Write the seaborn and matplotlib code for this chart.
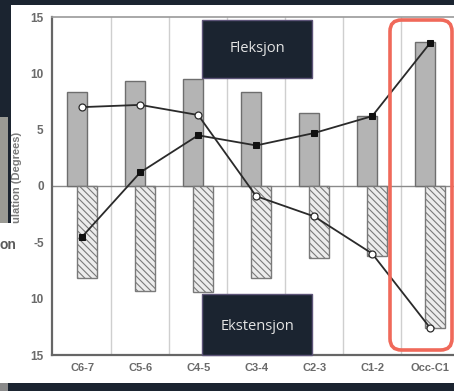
import numpy as np
import pandas as pd
import matplotlib
matplotlib.use("Agg")
import matplotlib.pyplot as plt
from matplotlib.patches import Rectangle, FancyBboxPatch
import seaborn as sns

# ---- data ----
categories = ["C6-7", "C5-6", "C4-5", "C3-4", "C2-3", "C1-2", "Occ-C1"]
flexion_bars = [8.3, 9.3, 9.5, 8.3, 6.5, 6.2, 12.8]
extension_bars = [-8.2, -9.3, -9.4, -8.2, -6.4, -6.2, -12.6]
open_circle_line = [7.0, 7.2, 6.3, -0.9, -2.7, -6.0, -12.6]
filled_square_line = [-4.5, 1.2, 4.5, 3.6, 4.7, 6.2, 12.7]
ytick_values = [15, 10, 5, 0, -5, -10, -15]
ytick_labels = ["15", "10", "5", "0", "-5", "10", "15"]
ylabel_text = "ulation (Degrees)"
box_top_text = "Fleksjon"
box_bottom_text = "Ekstensjon"

W, H = 454, 391
DARK = "#1b2430"

sns.set_style("white")
plt.rcParams["font.family"] = ["Liberation Sans", "DejaVu Sans"]
plt.rcParams["hatch.linewidth"] = 0.8

fig = plt.figure(figsize=(W / 100, H / 100), dpi=100)
fig.patch.set_facecolor("white")

def fx(x):
    return x / W

def fy(y):
    return 1 - y / H

# axes placed in pixel terms
ax_left, ax_top, ax_bottom = 52, 17, 355
xmin, xmax = -0.52, 6.5
px_per_unit = 58
ax_w = (xmax - xmin) * px_per_unit
ax = fig.add_axes([fx(ax_left), fy(ax_bottom), ax_w / W, (ax_bottom - ax_top) / H])
ax.set_facecolor("white")

pos = np.arange(len(categories))
off = 0.086
df_pos = pd.DataFrame({"x": pos - off, "y": flexion_bars})
df_neg = pd.DataFrame({"x": pos + off, "y": extension_bars})

ax.axhline(0, color="#8a8a8a", lw=1.0, zorder=0.5)
for b in pos[:-1] + 0.5:
    ax.axvline(b, color="#cfcfcf", lw=1.0, zorder=0.4)

sns.barplot(data=df_pos, x="x", y="y", native_scale=True, width=0.345,
            color="#b4b4b4", saturation=1, edgecolor="#6e6e6e", linewidth=1.0,
            errorbar=None, ax=ax, zorder=2)
sns.barplot(data=df_neg, x="x", y="y", native_scale=True, width=0.345,
            color="#ececec", saturation=1, edgecolor="#7a7a7a", linewidth=1.0,
            hatch="\\\\\\\\\\", errorbar=None, ax=ax, zorder=2)

sns.lineplot(x=pos, y=open_circle_line, ax=ax, color="#2a2a2a", lw=1.3,
             marker="o", markersize=5, markerfacecolor="white",
             markeredgecolor="#2a2a2a", markeredgewidth=0.9, zorder=4, sort=False)
sns.lineplot(x=pos, y=filled_square_line, ax=ax, color="#2a2a2a", lw=1.3,
             marker="s", markersize=4.5, markerfacecolor="#111111",
             markeredgecolor="#111111", zorder=5, sort=False)

ax.set_xlim(xmin, xmax)
ax.set_ylim(-15, 15)
ax.set_xticks(pos)
ax.set_xticklabels(categories, fontsize=8, fontweight="bold", color="#6a6a6a")
ax.set_yticks(ytick_values)
ax.set_yticklabels(ytick_labels, fontsize=8.5, fontweight="bold", color="#6a6a6a")
ax.tick_params(axis="y", direction="out", length=5, width=1.2, color="#666666", pad=1)
ax.tick_params(axis="x", length=0, pad=6)
ax.set_xlabel("")
ax.set_ylabel("")
for s in ["left", "bottom"]:
    ax.spines[s].set_color("#666666")
    ax.spines[s].set_linewidth(1.6)
ax.spines["top"].set_color("#9a9a9a")
ax.spines["top"].set_linewidth(1.2)
ax.spines["right"].set_visible(False)

# y label (partially visible)
fig.text(fx(17), fy(223), ylabel_text, rotation=90, ha="center", va="bottom",
         fontsize=8, fontweight="bold", color="#7a7a7a")

# ---- overlays from the slide ----
def rect(x0, y0, x1, y1, color, z=10, ec="none", lw=0):
    fig.patches.append(Rectangle((fx(x0), fy(y1)), fx(x1) - fx(x0), fy(y0) - fy(y1),
                                 transform=fig.transFigure, facecolor=color,
                                 edgecolor=ec, linewidth=lw, zorder=z))

rect(0, 0, W, 5, DARK)
rect(0, 0, 11, 223, DARK)
rect(0, 117, 8, 223, "#9a9a94")
rect(0, 383, W, H, DARK)
rect(0, 383, 8, H, "#8a8a8a")
fig.text(fx(0), fy(245), "on", fontsize=10, fontweight="bold", color="#5a5a5a",
         ha="left", va="center", zorder=11)

rect(202, 20, 312, 78, DARK, ec="#5d5478", lw=1)
fig.text(fx(257), fy(49), box_top_text, fontsize=10.5, family="Open Sans",
         color="#e4e4e4", ha="center", va="center", zorder=12)
rect(202, 294, 312, 355, DARK, ec="#5d5478", lw=1)
fig.text(fx(257), fy(327), box_bottom_text, fontsize=10.5, family="Open Sans",
         color="#e4e4e4", ha="center", va="center", zorder=12)

# red rounded highlight
fig.patches.append(FancyBboxPatch((fx(390), fy(350)), fx(452) - fx(390), fy(20) - fy(350),
                                  boxstyle="round,pad=0,rounding_size=0.025",
                                  transform=fig.transFigure, facecolor="none",
                                  edgecolor="#f0695a", linewidth=2.6, zorder=13,
                                  mutation_aspect=W / H))

fig.savefig("out.png", dpi=100)
